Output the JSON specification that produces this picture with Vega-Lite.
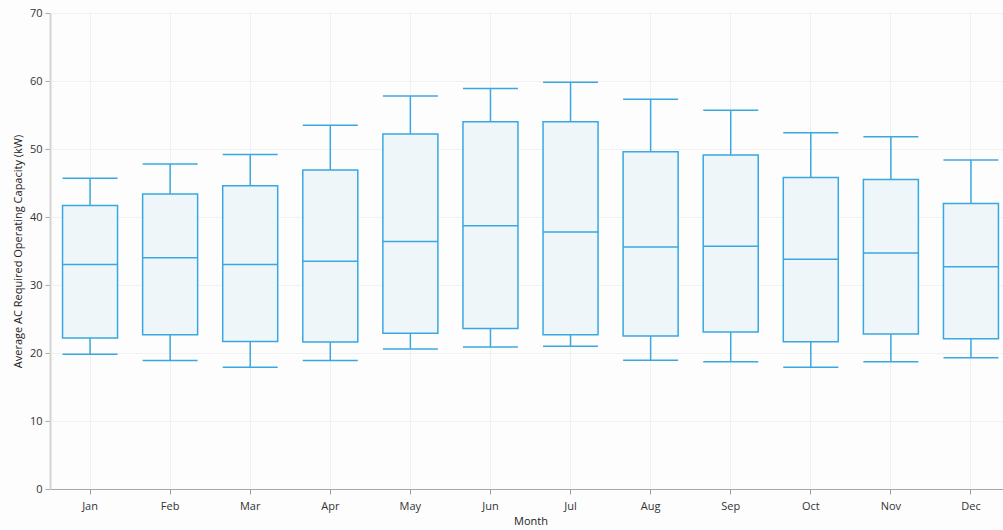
{
  "$schema": "https://vega.github.io/schema/vega-lite/v6.json",
  "autosize": {"type": "none"},
  "padding": {"left": 50, "top": 13, "right": 0, "bottom": 41},
  "width": 961,
  "height": 476,
  "background": "#fdfdfd",
  "config": {
    "view": {"stroke": null},
    "font": "Open Sans",
    "axis": {
      "labelFont": "Open Sans",
      "titleFont": "Open Sans",
      "labelFontSize": 11,
      "titleFontSize": 11,
      "labelColor": "#333333",
      "titleColor": "#222222",
      "titleFontWeight": "normal",
      "gridColor": "#f1f1f1",
      "gridWidth": 1
    }
  },
  "data": {
    "values": [
      {"month": "Jan", "low": 19.8, "q1": 22.2, "median": 33.0, "q3": 41.7, "high": 45.7},
      {"month": "Feb", "low": 18.9, "q1": 22.7, "median": 34.0, "q3": 43.4, "high": 47.8},
      {"month": "Mar", "low": 17.9, "q1": 21.7, "median": 33.0, "q3": 44.6, "high": 49.2},
      {"month": "Apr", "low": 18.9, "q1": 21.6, "median": 33.5, "q3": 46.9, "high": 53.5},
      {"month": "May", "low": 20.6, "q1": 22.9, "median": 36.4, "q3": 52.2, "high": 57.8},
      {"month": "Jun", "low": 20.9, "q1": 23.6, "median": 38.7, "q3": 54.0, "high": 58.9},
      {"month": "Jul", "low": 21.0, "q1": 22.7, "median": 37.8, "q3": 54.0, "high": 59.8},
      {"month": "Aug", "low": 18.95, "q1": 22.5, "median": 35.6, "q3": 49.6, "high": 57.3},
      {"month": "Sep", "low": 18.7, "q1": 23.1, "median": 35.7, "q3": 49.1, "high": 55.7},
      {"month": "Oct", "low": 17.9, "q1": 21.65, "median": 33.8, "q3": 45.8, "high": 52.4},
      {"month": "Nov", "low": 18.7, "q1": 22.8, "median": 34.7, "q3": 45.5, "high": 51.8},
      {"month": "Dec", "low": 19.3, "q1": 22.1, "median": 32.7, "q3": 42.0, "high": 48.4}
    ]
  },
  "encoding": {
    "x": {
      "field": "month",
      "type": "nominal",
      "sort": null,
      "scale": {"paddingInner": 0, "paddingOuter": 0},
      "axis": {
        "title": "Month",
        "labelAngle": 0,
        "labelPadding": 6,
        "titlePadding": 4,
        "tickColor": "#999999",
        "tickSize": 5,
        "domainColor": "#a8a8a8",
        "domainWidth": 1,
        "grid": true,
        "gridColor": "#f0f0f0"
      }
    }
  },
  "layer": [
    {
      "mark": {"type": "rule", "color": "#3aa8e0", "strokeWidth": 1.5},
      "encoding": {
        "y": {
          "field": "low",
          "type": "quantitative",
          "scale": {"domain": [0, 70], "nice": false},
          "axis": {
            "title": "Average AC Required Operating Capacity (kW)",
            "values": [0, 10, 20, 30, 40, 50, 60, 70],
            "tickColor": "#aaaaaa",
            "tickSize": 5,
            "labelPadding": 3,
            "titlePadding": 6,
            "domainColor": "#d4d4d4",
            "domainWidth": 2,
            "grid": true
          }
        },
        "y2": {"field": "q1"}
      }
    },
    {
      "mark": {"type": "rule", "color": "#3aa8e0", "strokeWidth": 1.5},
      "encoding": {
        "y": {"field": "q3", "type": "quantitative"},
        "y2": {"field": "high"}
      }
    },
    {
      "mark": {"type": "bar", "size": 55, "fill": "#eef6fa", "stroke": "#3aa8e0", "strokeWidth": 1.5},
      "encoding": {
        "y": {"field": "q1", "type": "quantitative"},
        "y2": {"field": "q3"}
      }
    },
    {
      "mark": {"type": "tick", "size": 55, "thickness": 1.5, "color": "#3aa8e0", "opacity": 1},
      "encoding": {"y": {"field": "median", "type": "quantitative"}}
    },
    {
      "mark": {"type": "tick", "size": 55, "thickness": 1.5, "color": "#3aa8e0", "opacity": 1},
      "encoding": {"y": {"field": "low", "type": "quantitative"}}
    },
    {
      "mark": {"type": "tick", "size": 55, "thickness": 1.5, "color": "#3aa8e0", "opacity": 1},
      "encoding": {"y": {"field": "high", "type": "quantitative"}}
    }
  ]
}
